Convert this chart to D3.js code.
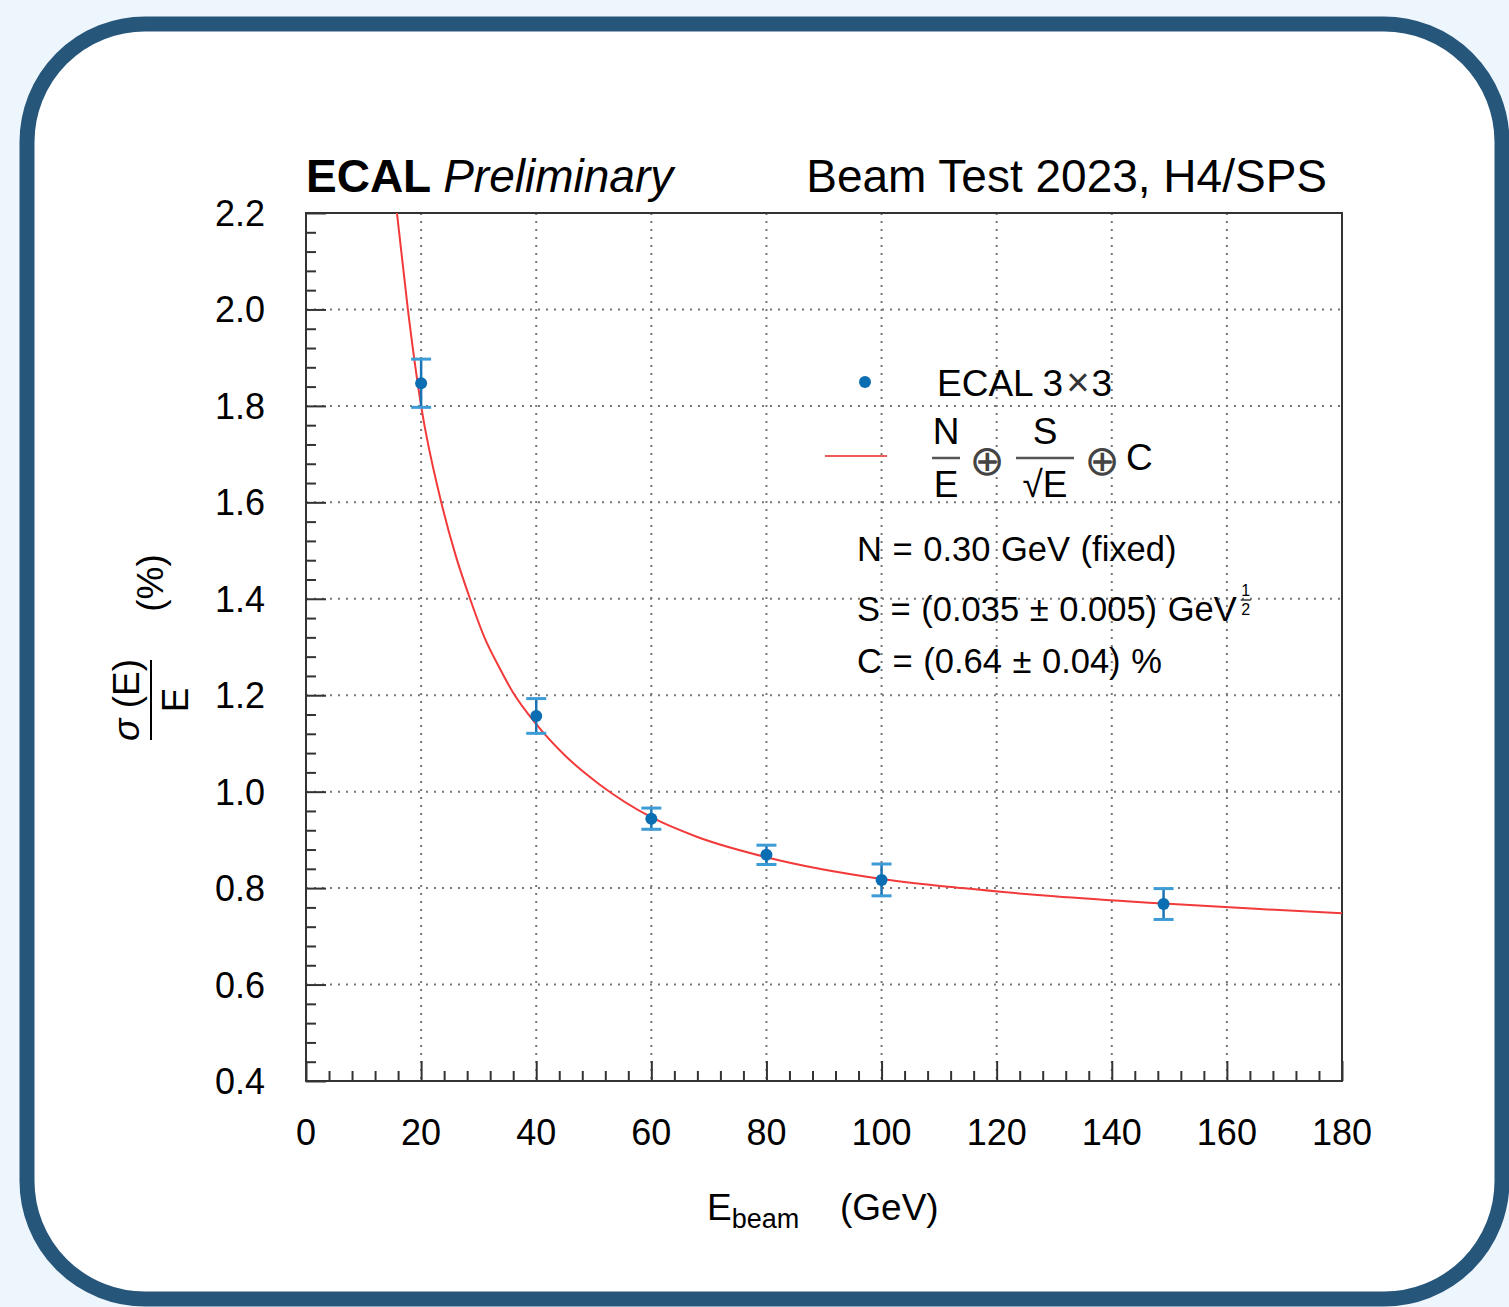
<!DOCTYPE html>
<html>
<head>
<meta charset="utf-8">
<script src="https://cdn.jsdelivr.net/npm/d3@7"></script>
<style>
  html, body { margin: 0; padding: 0; background: #eef6fd; }
  svg { display: block; }
  text { font-family: "Liberation Sans", Arial, Helvetica, sans-serif; fill: #000; }
</style>
</head>
<body>
<svg width="1509" height="1307"></svg>
<script>
// beam energies (GeV) and measured resolution sigma(E)/E in %
var energies = [20, 40, 60, 80, 100, 149];
var resolution = [1.847, 1.157, 0.944, 0.869, 0.817, 0.767];
var resErr = [0.050, 0.036, 0.022, 0.020, 0.033, 0.032];

// fit curve
var fitE = [15.8, 17.7, 20, 23.5, 26, 28.5, 31, 33.7, 36, 40, 45, 51, 60, 68, 80, 100, 114, 130, 149, 165, 180];
var fitRes = [2.2, 2.0, 1.80, 1.60, 1.49, 1.40, 1.32, 1.255, 1.205, 1.140, 1.075, 1.015, 0.947, 0.906, 0.864, 0.819, 0.80, 0.783, 0.768, 0.757, 0.748];

var xTicks = [0, 20, 40, 60, 80, 100, 120, 140, 160, 180];
var yTicks = [0.4, 0.6, 0.8, 1.0, 1.2, 1.4, 1.6, 1.8, 2.0, 2.2];

var svg = d3.select("svg");

// rounded card
svg.append("rect")
    .attr("x", 27).attr("y", 24)
    .attr("width", 1475).attr("height", 1275)
    .attr("rx", 118).attr("ry", 118)
    .attr("fill", "#fff")
    .attr("stroke", "#27567b")
    .attr("stroke-width", 15);

var x = d3.scaleLinear().domain([0, 180]).range([306, 1342]),
    y = d3.scaleLinear().domain([0.4, 2.2]).range([1081, 213]);

svg.append("clipPath").attr("id", "frame")
  .append("rect")
    .attr("x", x(0)).attr("y", y(2.2))
    .attr("width", x(180) - x(0)).attr("height", y(0.4) - y(2.2));

// grid
var grid = svg.append("g")
    .attr("stroke", "#777")
    .attr("stroke-width", 2)
    .attr("stroke-dasharray", "2,6");

grid.selectAll(".gx")
  .data(xTicks.filter(function(d) { return d > 0 && d < 180; }))
  .enter().append("line")
    .attr("x1", function(d) { return x(d); })
    .attr("x2", function(d) { return x(d); })
    .attr("y1", y(2.2)).attr("y2", y(0.4));

grid.selectAll(".gy")
  .data(yTicks.filter(function(d) { return d > 0.45 && d < 2.15; }))
  .enter().append("line")
    .attr("y1", function(d) { return y(d); })
    .attr("y2", function(d) { return y(d); })
    .attr("x1", x(0)).attr("x2", x(180));

// axes, ROOT style: ticks inside
var xAxis = d3.axisBottom(x)
    .tickValues(d3.range(0, 181, 4))
    .tickSize(0)
    .tickFormat("");
var gx = svg.append("g")
    .attr("transform", "translate(0," + y(0.4) + ")")
    .call(xAxis);
gx.select(".domain").remove();
gx.selectAll(".tick line")
    .attr("y2", function(d) { return d % 20 === 0 ? -20 : -10; })
    .attr("stroke", "#333").attr("stroke-width", 2);

svg.append("g").selectAll("text")
  .data(xTicks)
  .enter().append("text")
    .attr("x", function(d) { return x(d); })
    .attr("y", 1145)
    .attr("text-anchor", "middle")
    .style("font-size", "36px")
    .text(function(d) { return d; });

var yAxis = d3.axisLeft(y)
    .tickValues(d3.range(0, 46).map(function(i) { return 0.4 + i * 0.04; }))
    .tickSize(0)
    .tickFormat("");
var gy = svg.append("g")
    .attr("transform", "translate(" + x(0) + ",0)")
    .call(yAxis);
gy.select(".domain").remove();
gy.selectAll(".tick line")
    .attr("x2", function(d, i) { return i % 5 === 0 ? 20 : 10; })
    .attr("stroke", "#333").attr("stroke-width", 2);

svg.append("g").selectAll("text")
  .data(yTicks)
  .enter().append("text")
    .attr("x", 265)
    .attr("y", function(d) { return y(d) + 13; })
    .attr("text-anchor", "end")
    .style("font-size", "36px")
    .text(function(d) { return d.toFixed(1); });

// frame
svg.append("rect")
    .attr("x", x(0)).attr("y", y(2.2))
    .attr("width", x(180) - x(0)).attr("height", y(0.4) - y(2.2))
    .attr("fill", "none")
    .attr("stroke", "#333")
    .attr("stroke-width", 2);

// fit
var line = d3.line()
    .curve(d3.curveMonotoneX)
    .x(function(d) { return x(d[0]); })
    .y(function(d) { return y(d[1]); });

svg.append("path")
    .datum(d3.zip(fitE, fitRes))
    .attr("clip-path", "url(#frame)")
    .attr("fill", "none")
    .attr("stroke", "#f23a3a")
    .attr("stroke-width", 2)
    .attr("d", line);

// data points with error bars
var pts = svg.append("g").selectAll("g")
  .data(d3.zip(energies, resolution, resErr))
  .enter().append("g");

pts.append("line")
    .attr("x1", function(d) { return x(d[0]); })
    .attr("x2", function(d) { return x(d[0]); })
    .attr("y1", function(d) { return y(d[1] + d[2]); })
    .attr("y2", function(d) { return y(d[1] - d[2]); })
    .attr("stroke", "#1a73b5").attr("stroke-width", 2.5);

pts.selectAll(".cap")
  .data(function(d) { return [[d[0], d[1] + d[2]], [d[0], d[1] - d[2]]]; })
  .enter().append("line")
    .attr("x1", function(d) { return x(d[0]) - 10; })
    .attr("x2", function(d) { return x(d[0]) + 10; })
    .attr("y1", function(d) { return y(d[1]); })
    .attr("y2", function(d) { return y(d[1]); })
    .attr("stroke", "#3d9bd6").attr("stroke-width", 3);

pts.append("circle")
    .attr("cx", function(d) { return x(d[0]); })
    .attr("cy", function(d) { return y(d[1]); })
    .attr("r", 6)
    .attr("fill", "#0b6db2");

// titles
var title = svg.append("text").attr("x", 306).attr("y", 192).style("font-size", "46px");
title.append("tspan").style("font-weight", "bold").text("ECAL ");
title.append("tspan").style("font-style", "italic").text("Preliminary");

svg.append("text")
    .attr("x", 1327).attr("y", 192)
    .attr("text-anchor", "end")
    .style("font-size", "46px")
    .text("Beam Test 2023, H4/SPS");

// x title
var xt = svg.append("text").attr("x", 707).attr("y", 1220).style("font-size", "37px");
xt.append("tspan").text("E");
xt.append("tspan").attr("dy", 8).style("font-size", "27px").text("beam");
xt.append("tspan").attr("dy", -8).attr("x", 840).text("(GeV)");

// y title, rotated
var yt = svg.append("g").attr("transform", "translate(151,700) rotate(-90)");
yt.append("text")
    .attr("x", 0).attr("y", -12)
    .attr("text-anchor", "middle")
    .style("font-size", "37px")
    .html('<tspan style="font-style:italic">σ</tspan> (E)');
yt.append("line")
    .attr("x1", -40).attr("x2", 40)
    .attr("y1", 0).attr("y2", 0)
    .attr("stroke", "#000").attr("stroke-width", 2);
yt.append("text")
    .attr("x", 0).attr("y", 37)
    .attr("text-anchor", "middle")
    .style("font-size", "37px")
    .text("E");
yt.append("text")
    .attr("x", 117).attr("y", 12)
    .attr("text-anchor", "middle")
    .style("font-size", "37px")
    .text("(%)");

// legend
var leg = svg.append("g");
leg.append("circle").attr("cx", 865).attr("cy", 382).attr("r", 6).attr("fill", "#0b6db2");
var lt = leg.append("text").attr("x", 937).attr("y", 396).style("font-size", "37px");
lt.append("tspan").text("ECAL 3");
lt.append("tspan").attr("dx", 3).style("font-size", "40px").style("fill", "#333").text("×");
lt.append("tspan").attr("dx", 2).text("3");

leg.append("line")
    .attr("x1", 825).attr("x2", 887).attr("y1", 456).attr("y2", 456)
    .attr("stroke", "#f25a5a").attr("stroke-width", 2);

function frac(g, cx, w, num, den) {
  g.append("text").attr("x", cx).attr("y", 444).attr("text-anchor", "middle")
      .style("font-size", "37px").text(num);
  g.append("line").attr("x1", cx - w / 2).attr("x2", cx + w / 2)
      .attr("y1", 458).attr("y2", 458)
      .attr("stroke", "#555").attr("stroke-width", 2.5);
  g.append("text").attr("x", cx).attr("y", 497).attr("text-anchor", "middle")
      .style("font-size", "37px").text(den);
}
frac(leg, 946, 28, "N", "E");
frac(leg, 1045, 58, "S", "√E");
leg.selectAll(".oplus")
  .data([987, 1102])
  .enter().append("text")
    .attr("x", function(d) { return d; })
    .attr("y", 475)
    .attr("text-anchor", "middle")
    .style("font-family", "DejaVu Sans")
    .style("font-size", "42px")
    .style("fill", "#444")
    .text("⊕");
leg.append("text").attr("x", 1126).attr("y", 470).style("font-size", "37px").text("C");

var pars = [
  {y: 561, t: "N = 0.30 GeV (fixed)"},
  {y: 621, t: "S = (0.035 ± 0.005) GeV"},
  {y: 673, t: "C = (0.64 ± 0.04) %"}
];
var parText = leg.selectAll(".par")
  .data(pars)
  .enter().append("text")
    .attr("x", 857)
    .attr("y", function(d) { return d.y; })
    .style("font-size", "34.5px")
    .style("word-spacing", "1px")
    .text(function(d) { return d.t; });

// exponent 1/2 placed after "GeV"
var ex = 857 + parText.nodes()[1].getComputedTextLength() + 9;
leg.append("text").attr("x", ex).attr("y", 596).attr("text-anchor", "middle")
    .style("font-size", "16px").text("1");
leg.append("line").attr("x1", ex - 5).attr("x2", ex + 5).attr("y1", 600).attr("y2", 600)
    .attr("stroke", "#000").attr("stroke-width", 1.2);
leg.append("text").attr("x", ex).attr("y", 615).attr("text-anchor", "middle")
    .style("font-size", "16px").text("2");
</script>
</body>
</html>
